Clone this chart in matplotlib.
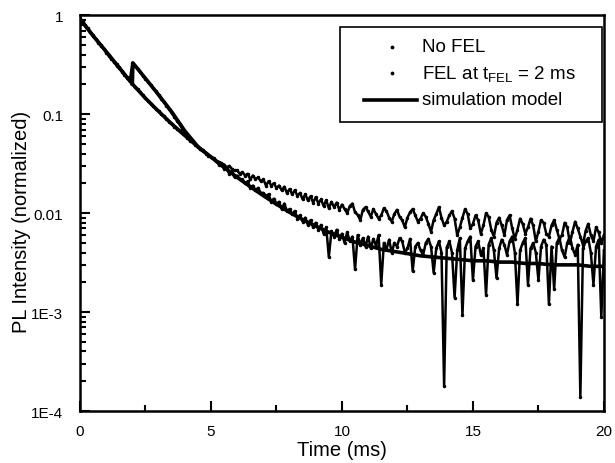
"""PL intensity decay with and without FEL pulse, log scale."""

import matplotlib
matplotlib.use("Agg")
import matplotlib.pyplot as plt
import numpy as np
from matplotlib.patches import Rectangle
from matplotlib.ticker import FixedLocator, FixedFormatter, LogLocator, NullFormatter

plt.rcParams["font.family"] = ["Liberation Sans", "DejaVu Sans"]

# measured data, one value every 0.1 ms from 0 to 20 ms
t_data = np.round(np.arange(201) * 0.1, 1)

no_fel = [
    0.93, 0.86, 0.80, 0.74, 0.68, 0.63, 0.58, 0.54, 0.50, 0.46,
    0.43, 0.40, 0.37, 0.34, 0.32, 0.30, 0.275, 0.255, 0.235, 0.218,
    0.202, 0.19, 0.178, 0.166, 0.155, 0.145, 0.137, 0.128, 0.120, 0.113,
    0.107, 0.101, 0.095, 0.089, 0.084, 0.079, 0.075, 0.071, 0.067, 0.064,
    0.061, 0.058, 0.054, 0.052, 0.049, 0.047, 0.044, 0.042, 0.040, 0.038,
    0.037, 0.035, 0.034, 0.031, 0.031, 0.028, 0.028, 0.025, 0.026, 0.023,
    0.024, 0.022, 0.022, 0.020, 0.021, 0.018, 0.019, 0.017, 0.018, 0.016,
    0.016, 0.015, 0.0155, 0.013, 0.014, 0.0125, 0.013, 0.011, 0.0125, 0.0105,
    0.011, 0.0098, 0.0105, 0.0088, 0.0095, 0.0082, 0.0090, 0.0076, 0.0085, 0.0072,
    0.0080, 0.0068, 0.0076, 0.0062, 0.0072, 0.0036, 0.0066, 0.0058, 0.0068, 0.0055,
    0.0062, 0.0050, 0.0064, 0.0052, 0.0058, 0.0027, 0.0060, 0.0048, 0.0056, 0.0046,
    0.0058, 0.0044, 0.0055, 0.0047, 0.0060, 0.0019, 0.0050, 0.0043, 0.0054, 0.0040,
    0.0050, 0.0046, 0.0056, 0.0052, 0.0040, 0.0044, 0.0055, 0.0026, 0.0046, 0.0050,
    0.0042, 0.0038, 0.0050, 0.0055, 0.0046, 0.0025, 0.0044, 0.0052, 0.0040, 0.00018,
    0.0045, 0.0052, 0.0040, 0.0014, 0.0042, 0.0056, 0.00093, 0.0044, 0.0052, 0.0058,
    0.0021, 0.0046, 0.0052, 0.0038, 0.0044, 0.0015, 0.0048, 0.0056, 0.0042, 0.0022,
    0.0044, 0.0054, 0.0048, 0.0038, 0.0052, 0.0058, 0.0040, 0.0012, 0.0042, 0.0050,
    0.0056, 0.0019, 0.0044, 0.0050, 0.0040, 0.0021, 0.0046, 0.0054, 0.0048, 0.0012,
    0.0046, 0.0017, 0.0050, 0.0056, 0.0042, 0.0036, 0.0050, 0.0058, 0.0044, 0.0038,
    0.0048, 0.00014, 0.0044, 0.0052, 0.0056, 0.0040, 0.0019, 0.0046, 0.0054, 0.00089,
    0.0042,
]

fel = [
    0.92, 0.85, 0.79, 0.73, 0.68, 0.62, 0.58, 0.53, 0.49, 0.46,
    0.42, 0.39, 0.36, 0.34, 0.31, 0.29, 0.27, 0.25, 0.232, 0.215,
    0.33, 0.307, 0.285, 0.265, 0.246, 0.228, 0.212, 0.197, 0.183, 0.170,
    0.156, 0.144, 0.133, 0.122, 0.112, 0.103, 0.094, 0.086, 0.079, 0.072,
    0.066, 0.060, 0.056, 0.053, 0.050, 0.047, 0.045, 0.043, 0.041, 0.039,
    0.037, 0.036, 0.034, 0.033, 0.032, 0.031, 0.029, 0.030, 0.028, 0.027,
    0.027, 0.025, 0.026, 0.024, 0.025, 0.022, 0.024, 0.022, 0.023, 0.021,
    0.022, 0.019, 0.021, 0.019, 0.020, 0.018, 0.019, 0.017, 0.0185, 0.016,
    0.0175, 0.0155, 0.017, 0.015, 0.016, 0.0138, 0.0155, 0.0135, 0.0148, 0.0128,
    0.0145, 0.0125, 0.0138, 0.0118, 0.0135, 0.0112, 0.0130, 0.0115, 0.0128, 0.0108,
    0.0122, 0.0110, 0.0100, 0.0118, 0.0125, 0.0102, 0.0096, 0.0085, 0.0108, 0.0115,
    0.0104, 0.0092, 0.0110, 0.0098, 0.0088, 0.0095, 0.0112, 0.0105, 0.0090, 0.0082,
    0.0098, 0.0108, 0.0092, 0.0085, 0.0072, 0.0090, 0.0102, 0.0110, 0.0095, 0.0082,
    0.0088, 0.0100, 0.0092, 0.0078, 0.0065, 0.0085, 0.0098, 0.0115, 0.0090, 0.0075,
    0.0082, 0.0095, 0.0105, 0.0088, 0.0060, 0.0072, 0.0090, 0.0110, 0.0098, 0.0070,
    0.0078, 0.0095, 0.0085, 0.0062, 0.0075, 0.0100, 0.0092, 0.0068, 0.0058, 0.0080,
    0.0090, 0.0075, 0.0060, 0.0085, 0.0095, 0.0070, 0.0055, 0.0068, 0.0088, 0.0078,
    0.0062, 0.0072, 0.0088, 0.0075, 0.0052, 0.0065, 0.0085, 0.0080, 0.0062, 0.0058,
    0.0075, 0.0085, 0.0068, 0.0055, 0.0060, 0.0080, 0.0072, 0.0050, 0.0065, 0.0082,
    0.0070, 0.0058, 0.0048, 0.0066, 0.0078, 0.0060, 0.0052, 0.0072, 0.0064, 0.0050,
    0.0060,
]

# simulation model
t_sim = np.arange(41) * 0.5
sim_no_fel = [
    0.91, 0.62, 0.43, 0.295, 0.202, 0.145, 0.107, 0.080, 0.061, 0.047,
    0.037, 0.029, 0.023, 0.0185, 0.015, 0.0123, 0.0102, 0.0086, 0.0074, 0.0064,
    0.0057, 0.0051, 0.0047, 0.0043, 0.0041, 0.0039, 0.0037, 0.0036, 0.0035, 0.0034,
    0.0033, 0.0033, 0.0032, 0.0032, 0.0031, 0.0031, 0.0030, 0.0030, 0.0030, 0.0029,
    0.0029,
]
t_sim_fel = [2.0, 2.02, 2.5, 3.0, 3.5, 4.0, 4.5]
sim_fel = [0.202, 0.33, 0.23, 0.157, 0.106, 0.068, 0.047]

fig = plt.figure(figsize=(6.15, 4.64), dpi=100)
ax = fig.add_axes([0.130, 0.112, 0.852, 0.853])

ax.plot(t_data, no_fel, color="black", lw=1.8, marker=".", ms=3)
ax.plot(t_data, fel, color="black", lw=1.8, marker=".", ms=3)
ax.plot(t_sim, sim_no_fel, color="black", lw=2.6)
ax.plot(t_sim_fel, sim_fel, color="black", lw=2.6)

# legend box drawn by hand (dots and line have different widths in the original)
tr = ax.transAxes
ax.add_patch(Rectangle((0.496, 0.730), 0.500, 0.240, transform=tr, fill=True,
                       facecolor="white", edgecolor="black", lw=1.2, zorder=5))
rows = [0.920, 0.853, 0.786]
labels = ["No FEL", r"FEL at t$_{\mathregular{FEL}}$ = 2 ms", "simulation model"]
for y in rows[:2]:
    ax.plot([0.595], [y], transform=tr, ls="none", marker=".", ms=3.5,
            color="black", zorder=6)
ax.plot([0.542, 0.643], [rows[2], rows[2]], transform=tr, color="black",
        lw=2.6, zorder=6)
for y, lab in zip(rows, labels):
    ax.text(0.653, y, lab, transform=tr, fontsize=13.5, va="center", ha="left",
            zorder=6)

ax.set_yscale("log")
ax.set_xlim(0, 20)
ax.set_ylim(1e-4, 1)

ax.xaxis.set_major_locator(FixedLocator([0, 5, 10, 15, 20]))
ax.xaxis.set_minor_locator(FixedLocator([2.5, 7.5, 12.5, 17.5]))
ax.yaxis.set_major_locator(FixedLocator([1e-4, 1e-3, 1e-2, 1e-1, 1]))
ax.yaxis.set_major_formatter(FixedFormatter(["1E-4", "1E-3", "0.01", "0.1", "1"]))
ax.yaxis.set_minor_locator(LogLocator(base=10, subs=np.arange(2, 10)))
ax.yaxis.set_minor_formatter(NullFormatter())

ax.tick_params(which="both", direction="in", top=False, right=False, labelsize=11, width=1.5)
ax.tick_params(which="major", length=7)
ax.tick_params(which="minor", length=4)
ax.tick_params(axis="x", pad=9)
ax.tick_params(axis="y", pad=12)
for s in ax.spines.values():
    s.set_linewidth(1.8)

ax.set_xlabel("Time (ms)", fontsize=14.5, labelpad=2)
ax.set_ylabel("PL Intensity (normalized)", fontsize=14.5)
ax.yaxis.set_label_coords(-0.093, 0.48)

fig.savefig("out.png", dpi=100)
